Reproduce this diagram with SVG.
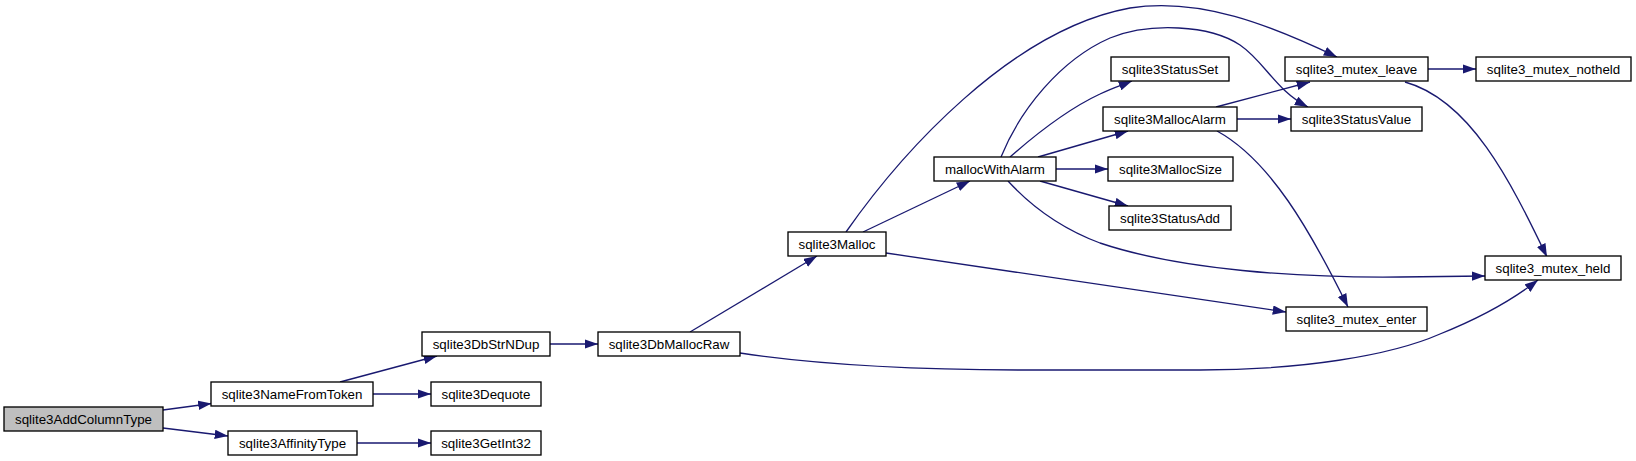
<svg xmlns="http://www.w3.org/2000/svg" width="1636" height="461" viewBox="0 0 1636 461">
<style>
.n rect{fill:#fff;stroke:#000;stroke-width:1.33}
.n.g rect{fill:#bfbfbf}
.n text{font-family:"Liberation Sans",Arial,sans-serif;font-size:13.33px;text-anchor:middle;fill:#000}
.e path{fill:none;stroke:#191970;stroke-width:1.33;marker-end:url(#a)}
</style>
<defs>
<marker id="a" markerUnits="userSpaceOnUse" viewBox="0 0 13.3 9.4" markerWidth="13.3" markerHeight="9.4" refX="13.3" refY="4.7" orient="auto">
<path d="M0,0 L13.3,4.7 L0,9.4 z" fill="#191970"/>
</marker>
</defs>
<g class="e" id="edges">
<path d="M163,410 L211.5,403.5"/>
<path d="M163,428 L228,436"/>
<path d="M373,394 L431,394"/>
<path d="M340,382 L437,356"/>
<path d="M357,443 L431,443"/>
<path d="M550,344 L598,344"/>
<path d="M690,332 L817,256"/>
<path d="M740,353 C800,362 900,370 1033,370 L1200,370 C1300,370 1390,356 1440,334 C1480,318 1515,298 1538,280"/>
<path d="M863,232 L970,181"/>
<path d="M846,232 C900,155 1010,30 1130,8 C1200,-3 1270,25 1337,57"/>
<path d="M886,253 L1286,312"/>
<path d="M1010,157 C1035,135 1070,108 1100,94 C1112,88 1122,85 1132,81"/>
<path d="M1038,157 L1128,131"/>
<path d="M1056,169 L1108,169"/>
<path d="M1040,181 L1128,206"/>
<path d="M1001,157 C1020,110 1060,60 1110,38 C1150,22 1210,25 1240,45 C1265,62 1275,90 1308,107"/>
<path d="M1008,181 C1030,205 1060,228 1100,243 C1180,270 1300,278 1400,277 L1485,276"/>
<path d="M1216,107 L1310,82"/>
<path d="M1237,119 L1291,119"/>
<path d="M1217,131 C1270,160 1310,230 1348,307"/>
<path d="M1428,69 L1476,69"/>
<path d="M1405,82 C1470,100 1510,180 1547,257"/>
</g>
<g class="n g" id="sqlite3AddColumnType"><rect x="4" y="407" width="159" height="24"/><text x="83.5" y="423.7">sqlite3AddColumnType</text></g>
<g class="n" id="sqlite3NameFromToken"><rect x="211" y="382" width="162" height="24"/><text x="292" y="398.7">sqlite3NameFromToken</text></g>
<g class="n" id="sqlite3Dequote"><rect x="431" y="382" width="110" height="24"/><text x="486" y="398.7">sqlite3Dequote</text></g>
<g class="n" id="sqlite3AffinityType"><rect x="228" y="431" width="129" height="24"/><text x="292.5" y="447.7">sqlite3AffinityType</text></g>
<g class="n" id="sqlite3GetInt32"><rect x="431" y="431" width="110" height="24"/><text x="486" y="447.7">sqlite3GetInt32</text></g>
<g class="n" id="sqlite3DbStrNDup"><rect x="422" y="332" width="128" height="24"/><text x="486" y="348.7">sqlite3DbStrNDup</text></g>
<g class="n" id="sqlite3DbMallocRaw"><rect x="598" y="332" width="142" height="24"/><text x="669" y="348.7">sqlite3DbMallocRaw</text></g>
<g class="n" id="sqlite3Malloc"><rect x="788" y="232" width="98" height="24"/><text x="837" y="248.7">sqlite3Malloc</text></g>
<g class="n" id="mallocWithAlarm"><rect x="934" y="157" width="122" height="24"/><text x="995" y="173.7">mallocWithAlarm</text></g>
<g class="n" id="sqlite3StatusSet"><rect x="1111" y="57" width="118" height="24"/><text x="1170" y="73.7">sqlite3StatusSet</text></g>
<g class="n" id="sqlite3MallocAlarm"><rect x="1103" y="107" width="134" height="24"/><text x="1170" y="123.7">sqlite3MallocAlarm</text></g>
<g class="n" id="sqlite3MallocSize"><rect x="1108" y="157" width="125" height="24"/><text x="1170.5" y="173.7">sqlite3MallocSize</text></g>
<g class="n" id="sqlite3StatusAdd"><rect x="1109" y="206" width="122" height="24"/><text x="1170" y="222.7">sqlite3StatusAdd</text></g>
<g class="n" id="sqlite3_mutex_leave"><rect x="1285" y="57" width="143" height="24"/><text x="1356.5" y="73.7">sqlite3_mutex_leave</text></g>
<g class="n" id="sqlite3_mutex_notheld"><rect x="1476" y="57" width="155" height="24"/><text x="1553.5" y="73.7">sqlite3_mutex_notheld</text></g>
<g class="n" id="sqlite3StatusValue"><rect x="1291" y="107" width="131" height="24"/><text x="1356.5" y="123.7">sqlite3StatusValue</text></g>
<g class="n" id="sqlite3_mutex_held"><rect x="1485" y="256" width="136" height="24"/><text x="1553" y="272.7">sqlite3_mutex_held</text></g>
<g class="n" id="sqlite3_mutex_enter"><rect x="1286" y="307" width="141" height="24"/><text x="1356.5" y="323.7">sqlite3_mutex_enter</text></g>
</svg>
